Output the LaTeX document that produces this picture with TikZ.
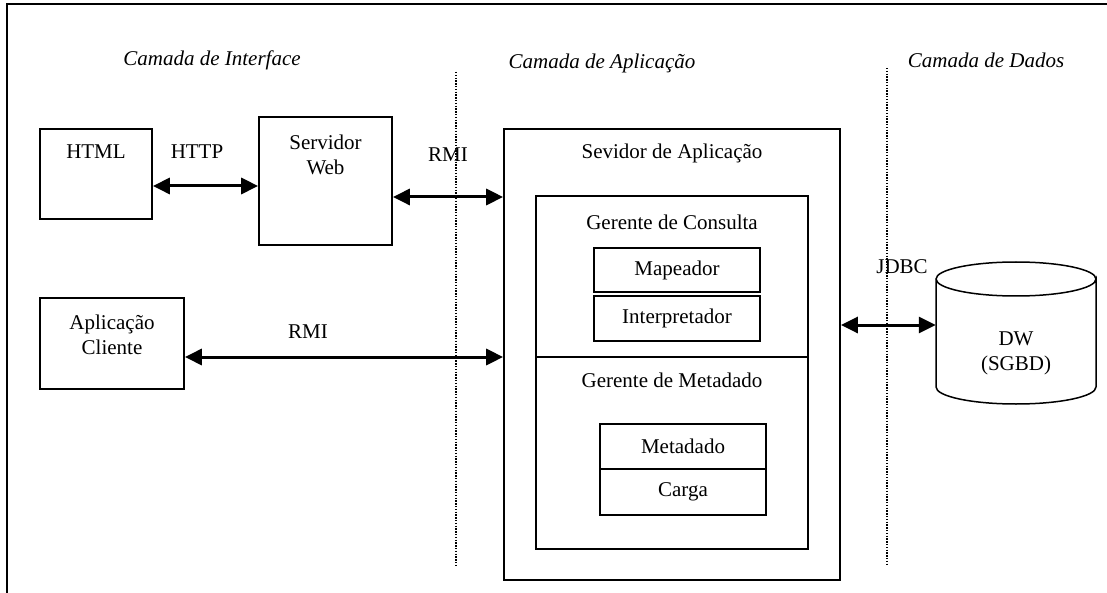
\documentclass[tikz,border=0pt]{standalone}
\usepackage{fontspec}
\setmainfont{Liberation Serif}
\usetikzlibrary{arrows.meta}

\begin{document}
\begin{tikzpicture}[x=1pt,y=-1pt,
    every node/.style={font=\fontsize{21}{25}\selectfont},
    box/.style={draw,line width=1.7pt,inner sep=0pt},
    conn/.style={{Triangle[length=17pt,width=16pt]}-{Triangle[length=17pt,width=16pt]},line width=3pt},
    divider/.style={line width=1.3pt,dash pattern=on 1.4pt off 1.4pt},
    layer/.style={font=\fontsize{21}{25}\selectfont\itshape}]
  \useasboundingbox (0,0) rectangle (1107,593);
  % moldura
  \draw[line width=1.8pt] (7,593) -- (7,4) -- (1107,4);
  % camadas
  \node[layer] (lint) at (212,60) {Camada de Interface};
  \node[layer] (lapl) at (602,63) {Camada de Aplicação};
  \node[layer] (ldad) at (986,60) {Camada de Dados};
  \draw[divider] (456,72) -- (456,565);
  \draw[divider] (887,68) -- (887,565);
  % interface
  \node[box,minimum width=112pt,minimum height=90pt] (html) at (96,174) {};
  \node (htmltxt) at (96,152) {HTML};
  \node[box,minimum width=133pt,minimum height=128pt] (web) at (325.5,181) {};
  \node[align=center] (webtxt) at (325.5,155) {Servidor\\Web};
  \node[box,minimum width=144pt,minimum height=91pt] (cli) at (112,343.5) {};
  \node[align=center] (clitxt) at (112,335) {Aplicação\\Cliente};
  % aplicacao
  \node[box,minimum width=336pt,minimum height=451pt] (app) at (672,354.5) {};
  \node (apptxt) at (672,153) {Sevidor de Aplicação};
  \node[box,minimum width=272pt,minimum height=161pt] (cons) at (672,276.5) {};
  \node (constxt) at (672,222) {Gerente de Consulta};
  \node[box,minimum width=166pt,minimum height=44pt] (map) at (677,270) {Mapeador};
  \node[box,minimum width=166pt,minimum height=45pt] (interp) at (677,318.5) {Interpretador};
  \node[box,minimum width=272pt,minimum height=192pt] (meta) at (672,453) {};
  \node (metatxt) at (672,380) {Gerente de Metadado};
  \node[box,minimum width=166pt,minimum height=45pt] (metad) at (683,446.5) {Metadado};
  \node[box,minimum width=166pt,minimum height=46pt] (carga) at (683,492) {Carga};
  % dados
  \node[minimum width=160pt,minimum height=142pt,inner sep=0pt,align=center] (db) at (1016,353) {DW\\(SGBD)};
  \draw[line width=1.5pt] (936,279) -- (936,387) arc[start angle=180,end angle=360,x radius=80pt,y radius=17pt]
    -- (1096,279) arc[start angle=0,end angle=-360,x radius=80pt,y radius=17pt];
  % conexoes
  \draw[conn] (html.east |- 0,186) -- (web.west |- 0,186);
  \node (http) at (197,152) {HTTP};
  \draw[conn] (web.east |- 0,197) -- (app.west |- 0,197);
  \node (rmi1) at (448,155) {RMI};
  \draw[conn] (cli.east |- 0,357) -- (app.west |- 0,357);
  \node (rmi2) at (308,332) {RMI};
  \draw[conn] (app.east |- 0,325) -- (db.west |- 0,325);
  \node (jdbc) at (902,267) {JDBC};
\end{tikzpicture}
\end{document}
